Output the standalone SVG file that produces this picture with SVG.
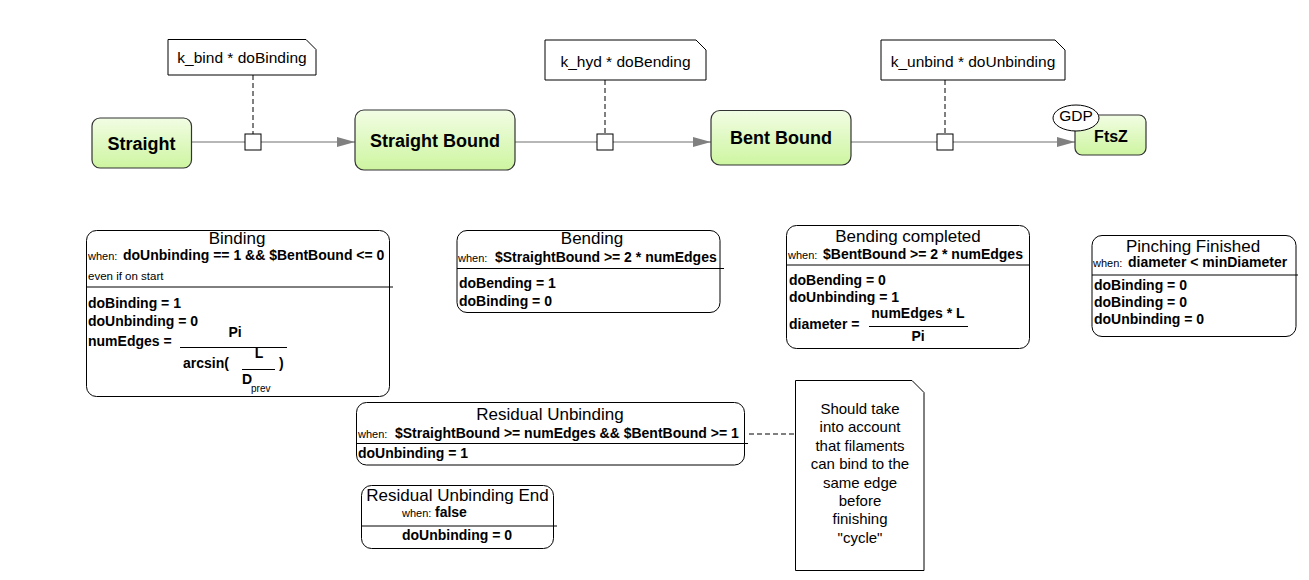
<svg xmlns="http://www.w3.org/2000/svg" width="1309" height="580" viewBox="0 0 1309 580">
<style>
text{font-family:"Liberation Sans",Arial,sans-serif;fill:#000}
.node{stroke:#333;stroke-width:1.2;fill:url(#g)}
.nl{font-size:18px;font-weight:bold;text-anchor:middle}
.rule{fill:#fff;stroke:#000;stroke-width:1}
.div{stroke:#000;stroke-width:1}
.t{font-size:17px;text-anchor:middle}
.w{font-size:11px}
.b{font-size:14px;font-weight:bold}
.s{font-size:11.5px}
.note{fill:#fff;stroke:#000;stroke-width:1}
.nt{font-size:15.5px;text-anchor:middle}
.nt2{font-size:15px;text-anchor:middle}
.dash{stroke:#000;stroke-width:1;stroke-dasharray:5,3;fill:none}
.edge{stroke:#707070;stroke-width:1.2;fill:none;marker-end:url(#arr)}
.sq{fill:#fff;stroke:#000;stroke-width:1}
</style>
<defs>
<linearGradient id="g" x1="0" y1="0" x2="0" y2="1">
<stop offset="0" stop-color="#f2fde4"/>
<stop offset="1" stop-color="#cdf5a0"/>
</linearGradient>
<marker id="arr" markerUnits="userSpaceOnUse" markerWidth="18" markerHeight="10" refX="18" refY="5" orient="auto">
<path d="M0,0 L18,5 L0,10 z" fill="#808080"/>
</marker>
</defs>
<rect width="1309" height="580" fill="#fff"/>

<g id="connectors">
<line class="edge" x1="192" y1="142" x2="355" y2="142"/>
<line class="edge" x1="515" y1="142" x2="711" y2="142"/>
<line class="edge" x1="851" y1="142" x2="1075" y2="142"/>
<line class="dash" x1="253" y1="75" x2="253" y2="134"/>
<line class="dash" x1="605" y1="80" x2="605" y2="134"/>
<line class="dash" x1="945" y1="80" x2="945" y2="134"/>
<line class="dash" x1="749" y1="434" x2="795" y2="434"/>
<rect class="sq" x="245" y="134" width="16" height="16"/>
<rect class="sq" x="597" y="134" width="16" height="16"/>
<rect class="sq" x="937" y="134" width="16" height="16"/>
</g>

<g id="node-straight">
<rect class="node" x="92" y="118" width="99.5" height="50" rx="8"/>
<text class="nl" x="141.5" y="149.5">Straight</text>
</g>
<g id="node-straight-bound">
<rect class="node" x="355" y="110" width="160" height="60" rx="9"/>
<text class="nl" x="435" y="146.5">Straight Bound</text>
</g>
<g id="node-bent-bound">
<rect class="node" x="711" y="110.5" width="140" height="54.5" rx="9"/>
<text class="nl" x="781" y="144">Bent Bound</text>
</g>
<g id="node-ftsz">
<rect class="node" x="1075" y="115" width="71" height="40" rx="7"/>
<text x="1111" y="142" style="font-size:16px;font-weight:bold;text-anchor:middle">FtsZ</text>
<ellipse cx="1076" cy="118" rx="23" ry="13" fill="#fff" stroke="#000" stroke-width="1"/>
<text x="1076" y="120.5" style="font-size:15.5px;text-anchor:middle">GDP</text>
</g>

<g id="note-kbind">
<path class="note" d="M168,39.5 H306 L316,49.5 V75 H168 Z"/>
<text class="nt" x="242" y="63">k_bind * doBinding</text>
</g>
<g id="note-khyd">
<path class="note" d="M545,40 H696 L706,50 V80 H545 Z"/>
<text class="nt" x="625.5" y="66.5">k_hyd * doBending</text>
</g>
<g id="note-kunbind">
<path class="note" d="M881,40 H1055 L1065,50 V80 H881 Z"/>
<text class="nt" x="973" y="66.5">k_unbind * doUnbinding</text>
</g>

<g id="rule-binding">
<rect class="rule" x="86.5" y="230.5" width="303" height="166" rx="10"/>
<line class="div" x1="86.5" y1="287" x2="393" y2="287"/>
<text class="t" x="237" y="244">Binding</text>
<text class="w" x="88" y="260">when:</text>
<text class="b" x="123" y="260">doUnbinding == 1 &amp;&amp; $BentBound &lt;= 0</text>
<text class="s" x="88" y="280">even if on start</text>
<text class="b" x="88" y="308">doBinding = 1</text>
<text class="b" x="88" y="326">doUnbinding = 0</text>
<text class="b" x="88" y="346">numEdges =</text>
<text class="b" x="235" y="337" text-anchor="middle">Pi</text>
<line class="div" x1="180" y1="347.5" x2="287" y2="347.5"/>
<text class="b" x="183" y="368">arcsin(</text>
<text class="b" x="259" y="358" text-anchor="middle">L</text>
<line class="div" x1="242" y1="369.5" x2="275" y2="369.5"/>
<text class="b" x="242" y="384">D</text>
<text x="251" y="392" style="font-size:10px">prev</text>
<text class="b" x="279" y="368">)</text>
</g>

<g id="rule-bending">
<rect class="rule" x="457" y="230.5" width="263" height="82" rx="10"/>
<line class="div" x1="457" y1="268.5" x2="724" y2="268.5"/>
<text class="t" x="592" y="244">Bending</text>
<text class="w" x="458" y="262">when:</text>
<text class="b" x="495" y="262">$StraightBound &gt;= 2 * numEdges</text>
<text class="b" x="459" y="288">doBending = 1</text>
<text class="b" x="459" y="306">doBinding = 0</text>
</g>

<g id="rule-bending-completed">
<rect class="rule" x="786.5" y="225.5" width="243" height="123" rx="10"/>
<line class="div" x1="786.5" y1="265" x2="1030" y2="265"/>
<text class="t" x="908" y="241.5">Bending completed</text>
<text class="w" x="788" y="259">when:</text>
<text class="b" x="823" y="259">$BentBound &gt;= 2 * numEdges</text>
<text class="b" x="789" y="285">doBending = 0</text>
<text class="b" x="789" y="302">doUnbinding = 1</text>
<text class="b" x="789" y="329">diameter =</text>
<text class="b" x="918" y="318" text-anchor="middle">numEdges * L</text>
<line class="div" x1="869" y1="326.5" x2="968" y2="326.5"/>
<text class="b" x="918" y="341" text-anchor="middle">Pi</text>
</g>

<g id="rule-pinching-finished">
<rect class="rule" x="1092" y="235.5" width="204" height="101" rx="10"/>
<line class="div" x1="1092" y1="275" x2="1298" y2="275"/>
<text class="t" x="1193" y="251.5">Pinching Finished</text>
<text class="w" x="1093" y="267">when:</text>
<text class="b" x="1128" y="267">diameter &lt; minDiameter</text>
<text class="b" x="1094" y="290">doBinding = 0</text>
<text class="b" x="1094" y="307">doBinding = 0</text>
<text class="b" x="1094" y="324">doUnbinding = 0</text>
</g>

<g id="rule-residual-unbinding">
<rect class="rule" x="356.5" y="402.5" width="388" height="62.5" rx="10"/>
<line class="div" x1="356.5" y1="443.5" x2="748" y2="443.5"/>
<text class="t" x="550" y="420">Residual Unbinding</text>
<text class="w" x="358" y="437.5">when:</text>
<text class="b" x="395" y="437.5">$StraightBound &gt;= numEdges &amp;&amp; $BentBound &gt;= 1</text>
<text class="b" x="358" y="458">doUnbinding = 1</text>
</g>

<g id="rule-residual-unbinding-end">
<rect class="rule" x="361.5" y="485.5" width="192" height="63" rx="10"/>
<line class="div" x1="361.5" y1="526" x2="557" y2="526"/>
<text class="t" x="457.5" y="500.5">Residual Unbinding End</text>
<text class="w" x="402" y="516.5">when:</text>
<text class="b" x="435" y="516.5">false</text>
<text class="b" x="402" y="540">doUnbinding = 0</text>
</g>

<g id="note-cycle">
<path class="note" d="M795.5,380.5 H912 L924,392.5 V570.5 H795.5 Z"/>
<text class="nt2" x="860" y="414">Should take</text>
<text class="nt2" x="860" y="432.4">into account</text>
<text class="nt2" x="860" y="450.8">that filaments</text>
<text class="nt2" x="860" y="469.2">can bind to the</text>
<text class="nt2" x="860" y="487.6">same edge</text>
<text class="nt2" x="860" y="506">before</text>
<text class="nt2" x="860" y="524.4">finishing</text>
<text class="nt2" x="860" y="542.8">"cycle"</text>
</g>
</svg>
